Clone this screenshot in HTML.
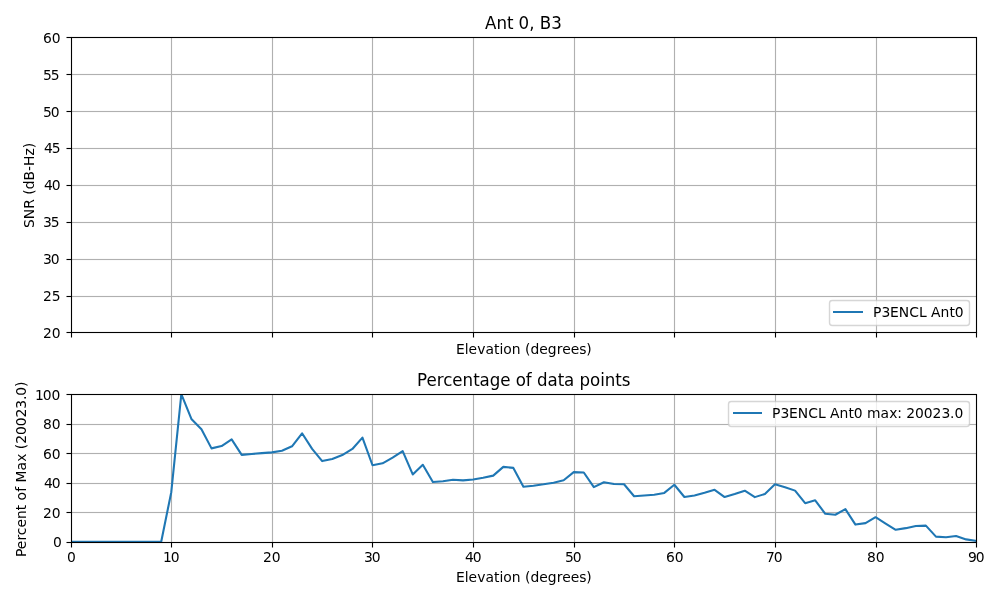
<!DOCTYPE html>
<html lang="en">
<head>
<meta charset="utf-8">
<title>Ant 0, B3</title>
<style>
html,body{margin:0;padding:0;background:#ffffff;overflow:hidden}
svg{display:block}
text{white-space:pre}
</style>
</head>
<body>
<svg width="1000" height="600" viewBox="0 0 1000 600">
<rect x="0" y="0" width="1000" height="600" fill="#ffffff"/>
<g fill="#b0b0b0">
<rect x="170.9367" y="37" width="1.1266" height="296"/>
<rect x="271.9367" y="37" width="1.1266" height="296"/>
<rect x="371.9367" y="37" width="1.1266" height="296"/>
<rect x="472.9367" y="37" width="1.1266" height="296"/>
<rect x="573.9367" y="37" width="1.1266" height="296"/>
<rect x="673.9367" y="37" width="1.1266" height="296"/>
<rect x="774.9367" y="37" width="1.1266" height="296"/>
<rect x="875.9367" y="37" width="1.1266" height="296"/>
<rect x="71" y="73.9367" width="906" height="1.1266"/>
<rect x="71" y="110.9367" width="906" height="1.1266"/>
<rect x="71" y="147.9367" width="906" height="1.1266"/>
<rect x="71" y="184.9367" width="906" height="1.1266"/>
<rect x="71" y="221.9367" width="906" height="1.1266"/>
<rect x="71" y="258.9367" width="906" height="1.1266"/>
<rect x="71" y="295.9367" width="906" height="1.1266"/>
</g>
<g fill="#000000">
<rect x="70.9444" y="332" width="1.1112" height="5.5"/>
<rect x="170.9444" y="332" width="1.1112" height="5.5"/>
<rect x="271.9444" y="332" width="1.1112" height="5.5"/>
<rect x="371.9444" y="332" width="1.1112" height="5.5"/>
<rect x="472.9444" y="332" width="1.1112" height="5.5"/>
<rect x="573.9444" y="332" width="1.1112" height="5.5"/>
<rect x="673.9444" y="332" width="1.1112" height="5.5"/>
<rect x="774.9444" y="332" width="1.1112" height="5.5"/>
<rect x="875.9444" y="332" width="1.1112" height="5.5"/>
<rect x="975.9444" y="332" width="1.1112" height="5.5"/>
<rect x="66.5" y="331.9444" width="5" height="1.1112"/>
<rect x="66.5" y="295.9444" width="5" height="1.1112"/>
<rect x="66.5" y="258.9444" width="5" height="1.1112"/>
<rect x="66.5" y="221.9444" width="5" height="1.1112"/>
<rect x="66.5" y="184.9444" width="5" height="1.1112"/>
<rect x="66.5" y="147.9444" width="5" height="1.1112"/>
<rect x="66.5" y="110.9444" width="5" height="1.1112"/>
<rect x="66.5" y="73.9444" width="5" height="1.1112"/>
<rect x="66.5" y="36.9444" width="5" height="1.1112"/>
<rect x="70.9444" y="37" width="1.1112" height="296"/>
<rect x="975.9444" y="37" width="1.1112" height="296"/>
<rect x="71" y="36.9444" width="906" height="1.1112"/>
<rect x="71" y="331.9444" width="906" height="1.1112"/>
</g>
<g fill="#b0b0b0">
<rect x="170.9367" y="394" width="1.1266" height="149"/>
<rect x="271.9367" y="394" width="1.1266" height="149"/>
<rect x="371.9367" y="394" width="1.1266" height="149"/>
<rect x="472.9367" y="394" width="1.1266" height="149"/>
<rect x="573.9367" y="394" width="1.1266" height="149"/>
<rect x="673.9367" y="394" width="1.1266" height="149"/>
<rect x="774.9367" y="394" width="1.1266" height="149"/>
<rect x="875.9367" y="394" width="1.1266" height="149"/>
<rect x="71" y="423.9367" width="906" height="1.1266"/>
<rect x="71" y="452.9367" width="906" height="1.1266"/>
<rect x="71" y="482.9367" width="906" height="1.1266"/>
<rect x="71" y="511.9367" width="906" height="1.1266"/>
</g>
<clipPath id="c2"><rect x="71" y="394" width="906" height="148"/></clipPath>
<polyline clip-path="url(#c2)" fill="none" stroke="#1f77b4" stroke-width="2.083" stroke-linejoin="round" stroke-linecap="square" points="70.65,541.72 80.71,541.72 90.78,541.72 100.84,541.72 110.90,541.72 120.96,541.72 131.02,541.72 141.08,541.72 151.14,541.72 161.21,541.72 171.27,492.18 181.33,394.18 191.39,418.92 201.45,429.28 211.51,448.37 221.58,446.01 231.64,439.34 241.70,454.89 251.76,453.99 261.82,453.11 271.88,452.37 281.94,450.75 292.01,446.30 302.07,433.28 312.13,448.81 322.19,461.10 332.25,459.02 342.31,455.04 352.37,448.96 362.44,437.57 372.50,465.25 382.56,463.32 392.62,457.55 402.68,451.04 412.74,474.43 422.81,464.81 432.87,481.97 442.93,481.23 452.99,479.75 463.05,480.34 473.11,479.46 483.17,477.82 493.24,475.61 503.30,466.87 513.36,467.90 523.42,486.70 533.48,485.67 543.54,484.34 553.60,482.70 563.67,480.20 573.73,472.12 583.79,472.49 593.85,487.14 603.91,482.26 613.97,484.05 624.04,484.27 634.10,496.25 644.16,495.51 654.22,494.70 664.28,492.93 674.34,484.78 684.40,496.99 694.47,495.44 704.53,492.78 714.59,489.82 724.65,497.06 734.71,494.11 744.77,490.70 754.83,497.13 764.90,493.96 774.96,484.34 785.02,487.29 795.08,490.63 805.14,503.14 815.20,500.32 825.27,513.79 835.33,514.75 845.39,509.06 855.45,524.59 865.51,523.12 875.57,517.20 885.63,523.56 895.70,529.77 905.76,528.15 915.82,525.92 925.88,525.62 935.94,536.59 946.00,537.18 956.06,536.00 966.13,539.39 976.19,540.88"/>
<g fill="#000000">
<rect x="70.9444" y="542" width="1.1112" height="5.5"/>
<rect x="170.9444" y="542" width="1.1112" height="5.5"/>
<rect x="271.9444" y="542" width="1.1112" height="5.5"/>
<rect x="371.9444" y="542" width="1.1112" height="5.5"/>
<rect x="472.9444" y="542" width="1.1112" height="5.5"/>
<rect x="573.9444" y="542" width="1.1112" height="5.5"/>
<rect x="673.9444" y="542" width="1.1112" height="5.5"/>
<rect x="774.9444" y="542" width="1.1112" height="5.5"/>
<rect x="875.9444" y="542" width="1.1112" height="5.5"/>
<rect x="975.9444" y="542" width="1.1112" height="5.5"/>
<rect x="66.5" y="541.9444" width="5" height="1.1112"/>
<rect x="66.5" y="511.9444" width="5" height="1.1112"/>
<rect x="66.5" y="482.9444" width="5" height="1.1112"/>
<rect x="66.5" y="452.9444" width="5" height="1.1112"/>
<rect x="66.5" y="423.9444" width="5" height="1.1112"/>
<rect x="66.5" y="393.9444" width="5" height="1.1112"/>
<rect x="70.9444" y="394" width="1.1112" height="149"/>
<rect x="975.9444" y="394" width="1.1112" height="149"/>
<rect x="71" y="393.9444" width="906" height="1.1112"/>
<rect x="71" y="541.9444" width="906" height="1.1112"/>
</g>
<rect x="829.5" y="300.5" width="140.0" height="25.0" rx="2.78" ry="2.78" fill="#ffffff" stroke="#cccccc" stroke-width="1.389" opacity="0.8"/>
<rect x="833" y="311" width="30" height="2" fill="#1f77b4"/>
<rect x="728.5" y="401.5" width="241.0" height="25.0" rx="2.78" ry="2.78" fill="#ffffff" stroke="#cccccc" stroke-width="1.389" opacity="0.8"/>
<rect x="733" y="412" width="29" height="2" fill="#1f77b4"/>
<g font-family="'DejaVu Sans', 'Liberation Sans', sans-serif" fill="#000000" font-size="13.889px">
<text x="484.902 496.554 507.117 513.402 518.45 529.304 534.602 539.65 551.334" y="28.077" font-size="16.667px" transform="scale(1,1.04)">Ant 0, B3</text>
<text x="43.007 51.843" y="337.7">20</text>
<text x="43.007 51.843" y="300.82">25</text>
<text x="43.007 50.843" y="263.93">30</text>
<text x="43.007 50.843" y="226.54">35</text>
<text x="44.007 51.843" y="189.66">40</text>
<text x="44.007 51.843" y="152.77">45</text>
<text x="43.007 50.843" y="116.88">50</text>
<text x="43.007 50.843" y="79.5">55</text>
<text x="43.007 51.843" y="42.61">60</text>
<text x="-8.789 0.027 10.416 20.067 24.482 29.9 38.717 48.245 53.257 63.701 70.991" y="185.38" transform="rotate(-90 33.81 185.38)">SNR (dB-Hz)</text>
<text x="455.93 464.705 468.564 477.359 485.579 494.09 499.535 503.144 511.642 520.444 525.109 530.528 539.344 547.639 556.705 562.166 570.711 579.256 586.242" y="353.9">Elevation (degrees)</text>
<text x="873.12 881.495 890.082 898.858 909.247 918.945 926.683 931.098 940.599 949.402 954.848" y="316.54">P3ENCL Ant0</text>
<text x="416.965 426.516 436.77 443.372 452.286 462.54 473.353 479.388 489.852 500.181 510.936 515.733 525.681 532.298 537.096 547.426 557.639 563.924 575.138 579.436 590.015 600.212 604.843 615.156 621.691" y="371.192" font-size="16.667px" transform="scale(1,1.04)">Percentage of data points</text>
<text x="66.982" y="561.5">0</text>
<text x="162.933 170.77" y="561.5">10</text>
<text x="263.043 271.63" y="561.5">20</text>
<text x="363.913 371.75" y="561.5">30</text>
<text x="465.023 472.86" y="561.5">40</text>
<text x="564.893 572.73" y="561.5">50</text>
<text x="666.003 674.84" y="561.5">60</text>
<text x="766.123 773.71" y="561.5">70</text>
<text x="866.983 875.82" y="561.5">80</text>
<text x="968.103 975.69" y="561.5">90</text>
<text x="53.093" y="546.5">0</text>
<text x="43.007 51.843" y="517.99">20</text>
<text x="44.007 51.843" y="487.98">40</text>
<text x="43.007 51.843" y="458.97">60</text>
<text x="43.007 51.843" y="428.96">80</text>
<text x="34.92 42.757 51.593" y="399.95">100</text>
<text x="-62.359 -54.483 -45.938 -40.478 -32.842 -24.297 -15.494 -9.549 -5.884 2.864 8.253 12.168 24.152 32.913 41.382 45.547 50.966 59.802 68.389 77.226 86.062 94.649 98.814 107.65" y="468.95" transform="rotate(-90 25.73 468.95)">Percent of Max (20023.0)</text>
<text x="455.93 464.705 468.564 477.359 485.579 494.09 499.535 503.144 511.642 520.444 525.109 530.528 539.344 547.639 556.705 562.166 570.711 579.256 586.242" y="581.5">Elevation (degrees)</text>
<text x="771.92 780.545 788.882 797.658 808.297 817.995 825.733 829.898 839.399 848.452 853.648 862.734 866.899 880.429 889.19 897.159 902.089 906.254 915.09 923.677 932.513 941.6 949.937 954.602" y="417.73">P3ENCL Ant0 max: 20023.0</text>
</g>
</svg>
</body>
</html>
